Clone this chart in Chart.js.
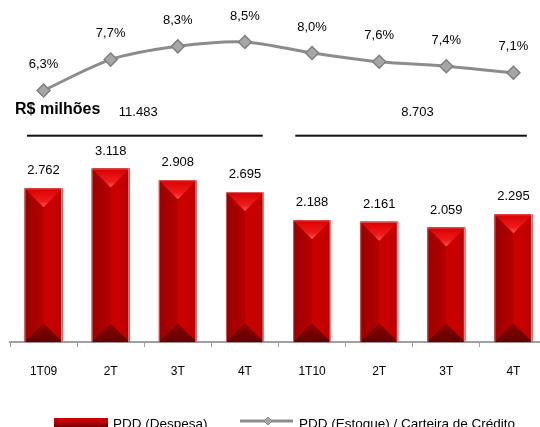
<!DOCTYPE html>
<html>
<head>
<meta charset="utf-8">
<script src="https://cdn.jsdelivr.net/npm/chart.js@4.4.1/dist/chart.umd.min.js"></script>
<style>
  html, body { margin: 0; padding: 0; background: #fff; }
  #wrap { width: 540px; height: 427px; overflow: hidden; }
</style>
</head>
<body>
<div id="wrap"><canvas id="pdd-chart" width="555" height="427"></canvas></div>
<script>
// Données
const categories = ['1T09', '2T', '3T', '4T', '1T10', '2T', '3T', '4T'];
const despesa = [2762, 3118, 2908, 2695, 2188, 2161, 2059, 2295];
const estoque = [6.3, 7.7, 8.3, 8.5, 8.0, 7.6, 7.4, 7.1];
const groups = [[0, 3], [4, 7]];   // 2009 / 2010
const unitLabel = 'R$ milhões';
const legendLabels = ['PDD (Despesa)', 'PDD (Estoque) / Carteira de Crédito'];

const FONT = '"Liberation Sans", Arial, sans-serif';

function fmtMil(v) {
    return String(v).replace(/\B(?=(\d{3})+(?!\d))/g, '.');
}
function fmtPct(v) {
    return v.toFixed(1).replace('.', ',') + '%';
}

// Barres "3D" + étiquettes + accolades + légende
const decorPlugin = {
    id: 'decor',
    afterDatasetDraw(chart, args) {
        if (args.index !== 0) return;
        const ctx = chart.ctx;
        ctx.save();
        args.meta.data.forEach(bar => {
            const { x, y, width, base } = bar.getProps(['x', 'y', 'width', 'base'], true);
            const l = x - width / 2, r = x + width / 2, h = base - y;
            const tri = Math.min(width / 2, h / 2);

            let g = ctx.createLinearGradient(l, 0, x, 0);
            g.addColorStop(0, '#9a0000');
            g.addColorStop(1, '#b60000');
            ctx.fillStyle = g;
            ctx.fillRect(l, y, x - l, h);

            g = ctx.createLinearGradient(x, 0, r, 0);
            g.addColorStop(0, '#cc0000');
            g.addColorStop(0.8, '#c20000');
            g.addColorStop(1, '#a40000');
            ctx.fillStyle = g;
            ctx.fillRect(x, y, r - x, h);

            // triangle du haut
            g = ctx.createLinearGradient(0, y, 0, y + tri);
            g.addColorStop(0, '#d80000');
            g.addColorStop(0.7, '#f01c1c');
            g.addColorStop(1, '#ff5a5a');
            ctx.fillStyle = g;
            ctx.beginPath();
            ctx.moveTo(l, y);
            ctx.lineTo(r, y);
            ctx.lineTo(x, y + tri);
            ctx.closePath();
            ctx.fill();

            // triangle du bas
            g = ctx.createLinearGradient(0, base - tri, 0, base);
            g.addColorStop(0, '#900000');
            g.addColorStop(1, '#600000');
            ctx.fillStyle = g;
            ctx.beginPath();
            ctx.moveTo(l, base);
            ctx.lineTo(r, base);
            ctx.lineTo(x, base - tri);
            ctx.closePath();
            ctx.fill();

            // liseré clair
            ctx.fillStyle = 'rgba(230, 150, 150, 0.9)';
            ctx.fillRect(r - 1.5, y, 1.5, h);
            ctx.fillStyle = 'rgba(230, 150, 150, 0.6)';
            ctx.fillRect(l, y, 1, h);
            ctx.fillRect(l, y, width, 1);
        });
        ctx.restore();
    },
    afterDraw(chart) {
        const ctx = chart.ctx;
        const xs = chart.scales.x;
        const cw = xs.width / categories.length;
        ctx.save();

        ctx.font = '13px ' + FONT;
        ctx.fillStyle = '#000';
        ctx.textAlign = 'center';
        ctx.textBaseline = 'middle';

        // valeurs des barres
        chart.getDatasetMeta(0).data.forEach((bar, i) => {
            ctx.fillText(fmtMil(despesa[i]), bar.x, bar.y - 17.5);
        });
        // valeurs de la courbe
        chart.getDatasetMeta(1).data.forEach((pt, i) => {
            ctx.fillText(fmtPct(estoque[i]), pt.x, pt.y - 26);
        });

        // accolades avec totaux
        const lineY = 135.7;
        const spans = [[-0.247, 0.266, 0.41], [-0.25, 0.2, 0.57]];
        groups.forEach(([a, b], k) => {
            const x0 = xs.getPixelForValue(a) + spans[k][0] * cw;
            const x1 = xs.getPixelForValue(b) + spans[k][1] * cw;
            ctx.fillStyle = '#111';
            ctx.fillRect(x0, lineY - 1, x1 - x0, 2);
            let total = 0;
            for (let i = a; i <= b; i++) total += despesa[i];
            const tx = xs.getPixelForValue(a + 1) + spans[k][2] * cw;
            ctx.fillStyle = '#000';
            ctx.fillText(fmtMil(total), tx, lineY - 23);
        });

        ctx.font = 'bold 16px ' + FONT;
        ctx.textAlign = 'left';
        ctx.fillText(unitLabel, 15, 110);

        // légende (coupée en bas comme l'original)
        const ly = 421;
        let g = ctx.createLinearGradient(0, ly - 3, 0, ly + 8);
        g.addColorStop(0, '#d00000');
        g.addColorStop(0.5, '#b00000');
        g.addColorStop(0.75, '#700000');
        g.addColorStop(1, '#4a0000');
        ctx.fillStyle = g;
        ctx.fillRect(54, ly - 3, 54, 11);
        ctx.font = '13.5px ' + FONT;
        ctx.fillStyle = '#000';
        ctx.textBaseline = 'alphabetic';
        ctx.fillText(legendLabels[0], 113, 427.5);

        ctx.strokeStyle = '#8c8c8c';
        ctx.lineWidth = 3;
        ctx.beginPath();
        ctx.moveTo(240, ly);
        ctx.lineTo(293, ly);
        ctx.stroke();
        ctx.fillStyle = '#a6a6a6';
        ctx.strokeStyle = '#8a8a8a';
        ctx.lineWidth = 1;
        ctx.beginPath();
        ctx.moveTo(268, ly - 4);
        ctx.lineTo(272, ly);
        ctx.lineTo(268, ly + 4);
        ctx.lineTo(264, ly);
        ctx.closePath();
        ctx.fill();
        ctx.stroke();
        ctx.fillStyle = '#000';
        ctx.fillText(legendLabels[1], 299, 427.5);

        ctx.restore();
    }
};

const chart = new Chart(document.getElementById('pdd-chart').getContext('2d'), {
    type: 'bar',
    data: {
        labels: categories,
        datasets: [
            {
                type: 'bar',
                label: legendLabels[0],
                data: despesa,
                yAxisID: 'y',
                backgroundColor: '#b40000',
                barPercentage: 0.565,
                categoryPercentage: 1,
                order: 2
            },
            {
                type: 'line',
                label: legendLabels[1],
                data: estoque,
                yAxisID: 'y2',
                borderColor: '#8c8c8c',
                borderWidth: 3,
                tension: 0.3,
                pointStyle: 'rectRot',
                pointRadius: 6.5,
                pointBackgroundColor: '#a6a6a6',
                pointBorderColor: '#808080',
                pointBorderWidth: 1.5,
                order: 1
            }
        ]
    },
    options: {
        responsive: false,
        animation: false,
        devicePixelRatio: 1,
        layout: {
            padding: { left: 10, right: 2, top: 5, bottom: 31.5 }
        },
        plugins: {
            legend: { display: false },
            tooltip: { enabled: false }
        },
        scales: {
            x: {
                offset: true,
                grid: {
                    display: true,
                    drawOnChartArea: false,
                    drawTicks: true,
                    tickLength: 5,
                    color: '#a0a0a0',
                    offset: true
                },
                border: { display: true, color: '#a0a0a0', width: 2 },
                ticks: {
                    color: '#000',
                    padding: 17,
                    font: { family: FONT, size: 12 }
                }
            },
            y: {
                display: false,
                min: 0,
                max: 6000
            },
            y2: {
                display: false,
                position: 'right',
                min: -5.115,
                max: 10.04
            }
        }
    },
    plugins: [decorPlugin]
});
</script>
</body>
</html>
